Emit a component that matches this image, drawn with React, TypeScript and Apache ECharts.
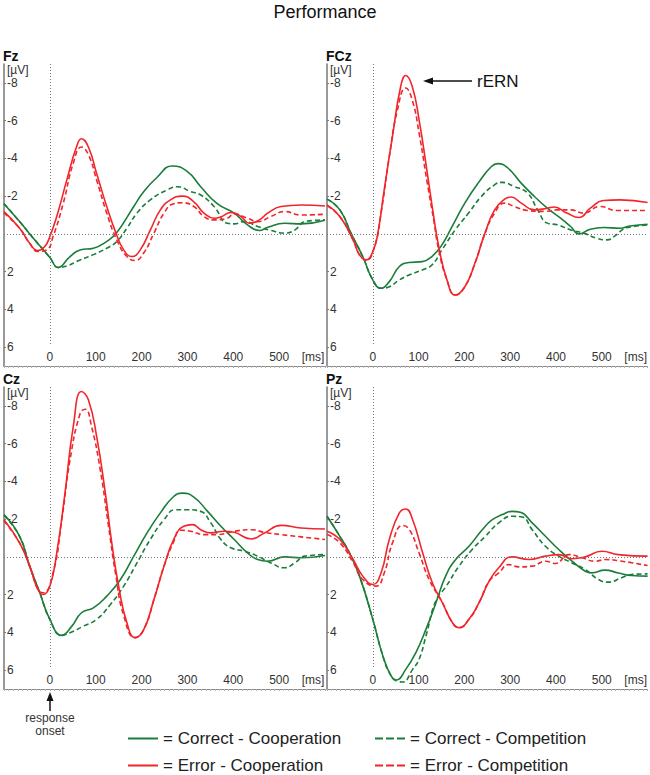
import React, { useEffect, useRef } from "react";
import * as echarts from "echarts";

type Pt = [number, number];

// ---- Data (time in ms, amplitude in µV) ----
const seriesNames = [
  "Correct - Cooperation",
  "Correct - Competition",
  "Error - Cooperation",
  "Error - Competition",
];
const panelNames = ["Fz", "FCz", "Cz", "Pz"];
const yTickValues = [-8, -6, -4, -2, 2, 4, 6];
const xTickValues = [0, 100, 200, 300, 400, 500];
const xUnitLabel = "[ms]";
const xUnitPos = 574;
const yUnitLabel = "[µV]";

const fzCorrectCoop: Pt[] = [[-100,-1.6],[-66,-0.65],[-37,0.2],[0,1.25],[18,1.78],[44,1.2],[66,0.85],[95,0.76],[124,0.4],[146,-0.07],[183,-1.45],[205,-2.24],[234,-3.0],[267,-3.6],[300,-3.3],[329,-2.5],[365,-1.6],[402,-1.1],[431,-0.48],[457,-0.18],[475,-0.35],[512,-0.56],[548,-0.53],[600,-0.72]];
const fzCorrectComp: Pt[] = [[-100,-1.6],[-66,-0.65],[-37,0.2],[0,1.25],[18,1.78],[37,1.7],[66,1.38],[95,1.1],[124,0.76],[146,0.4],[168,-0.3],[190,-1.1],[219,-1.8],[256,-2.33],[278,-2.5],[307,-2.24],[329,-2.06],[358,-1.45],[387,-0.56],[402,-0.53],[424,-0.65],[453,-0.39],[482,-0.18],[512,-0.04],[534,-0.2],[556,-0.65],[600,-0.74]];
const fzErrorCoop: Pt[] = [[-100,-1.18],[-66,-0.3],[-44,0.5],[-26,0.88],[-11,0.67],[0,0.14],[15,-0.92],[37,-2.86],[58,-4.6],[69,-5.04],[84,-4.6],[102,-3.2],[124,-1.45],[143,-0.12],[161,0.85],[179,1.2],[197,0.85],[219,-0.2],[241,-1.27],[263,-1.8],[289,-2.0],[314,-1.7],[336,-1.1],[358,-0.83],[373,-0.9],[395,-1.13],[417,-0.92],[435,-0.56],[457,-0.74],[475,-1.1],[504,-1.45],[548,-1.53],[600,-1.48]];
const fzErrorComp: Pt[] = [[-100,-1.1],[-66,-0.3],[-44,0.5],[-26,0.93],[-7,0.85],[7,0.14],[29,-1.6],[51,-3.74],[69,-4.6],[84,-4.2],[102,-2.86],[124,-1.1],[146,0.32],[168,1.2],[186,1.41],[205,1.0],[227,-0.04],[249,-1.1],[270,-1.6],[289,-1.65],[314,-1.45],[336,-0.92],[358,-0.74],[387,-0.83],[402,-1.06],[431,-0.83],[453,-0.65],[482,-0.92],[512,-1.18],[548,-1.0],[600,-1.04]];

const fczCorrectCoop: Pt[] = [[-100,-1.84],[-72,-1.27],[-47,0],[-22,1.2],[0,2.44],[18,2.88],[36,2.53],[58,1.73],[79,1.52],[108,1.47],[129,1.2],[151,0.58],[173,-0.39],[201,-1.63],[230,-2.69],[259,-3.57],[273,-3.72],[295,-3.49],[324,-2.69],[353,-1.98],[381,-1.36],[410,-0.83],[432,-0.39],[450,0],[475,-0.25],[504,-0.34],[540,-0.3],[561,-0.42],[600,-0.51]];
const fczCorrectComp: Pt[] = [[-100,-1.84],[-72,-1.27],[-47,0],[-22,1.2],[0,2.44],[18,2.88],[36,2.8],[58,2.44],[79,2.18],[108,1.91],[129,1.65],[151,0.85],[180,-0.21],[209,-1.1],[237,-1.98],[266,-2.6],[281,-2.73],[309,-2.51],[338,-2.16],[360,-1.27],[381,-0.57],[403,-0.48],[432,-0.21],[460,-0.04],[489,0.23],[511,0.32],[532,0.05],[547,-0.25],[568,-0.38],[600,-0.48]];
const fczErrorCoop: Pt[] = [[-100,-1.54],[-72,-0.92],[-43,0.32],[-29,1.11],[-14,1.38],[0,0.94],[11,-0.04],[25,-2.34],[43,-5.17],[61,-7.82],[72,-8.39],[86,-7.82],[101,-6.05],[119,-3.22],[133,-0.92],[144,0.67],[162,2.44],[180,3.24],[201,2.8],[223,1.56],[245,-0.04],[266,-1.27],[288,-1.84],[302,-1.95],[324,-1.63],[353,-1.27],[381,-1.36],[396,-1.42],[424,-1.1],[450,-0.87],[475,-1.36],[504,-1.77],[540,-1.8],[600,-1.66]];
const fczErrorComp: Pt[] = [[-100,-1.5],[-72,-0.92],[-43,0.32],[-29,1.11],[-14,1.38],[4,0.67],[18,-1.1],[36,-4.1],[54,-6.58],[72,-7.73],[86,-7.1],[101,-5.35],[119,-2.69],[133,-0.74],[144,0.85],[162,2.44],[180,3.24],[201,2.8],[223,1.56],[245,-0.04],[266,-1.1],[288,-1.63],[309,-1.45],[338,-1.24],[374,-1.19],[403,-1.27],[432,-1.27],[460,-1.1],[496,-1.45],[532,-1.24],[600,-1.24]];

const czCorrectCoop: Pt[] = [[-100,-2.24],[-66,-1.09],[-44,0.49],[-22,1.9],[0,3.31],[26,4.16],[48,3.67],[69,2.96],[95,2.7],[124,2.08],[154,1.2],[183,-0.04],[212,-1.27],[241,-2.33],[270,-3.2],[289,-3.38],[314,-3.17],[344,-2.41],[373,-1.62],[402,-0.92],[431,-0.21],[453,0.14],[475,0.23],[512,0],[548,0.05],[600,-0.07]];
const czCorrectComp: Pt[] = [[-100,-2.2],[-66,-1.09],[-44,0.49],[-22,1.9],[0,3.31],[26,4.16],[44,4.02],[73,3.67],[102,3.31],[132,2.52],[161,1.55],[190,0.32],[219,-0.92],[249,-1.97],[274,-2.5],[300,-2.5],[329,-2.41],[351,-1.8],[373,-0.92],[395,-0.48],[424,-0.3],[453,-0.04],[482,0.32],[512,0.58],[534,0.32],[556,-0.04],[600,-0.12]];
const czErrorCoop: Pt[] = [[-100,-1.97],[-66,-0.74],[-44,0.49],[-26,1.73],[-15,1.99],[0,1.55],[15,-0.21],[33,-3.38],[51,-6.9],[69,-8.76],[84,-8.32],[102,-6.38],[121,-3.38],[135,-0.74],[150,1.55],[168,3.49],[186,4.28],[205,3.84],[227,2.26],[249,0.49],[270,-0.92],[292,-1.62],[311,-1.71],[329,-1.44],[351,-1.27],[380,-1.36],[402,-1.3],[439,-0.95],[468,-1.27],[504,-1.67],[548,-1.53],[600,-1.48]];
const czErrorComp: Pt[] = [[-100,-1.9],[-66,-0.74],[-44,0.49],[-26,1.73],[-15,1.9],[7,0.85],[26,-1.97],[44,-5.14],[66,-7.6],[77,-7.82],[91,-6.9],[110,-4.6],[128,-1.62],[143,0.85],[161,3.1],[186,4.28],[205,3.84],[227,2.26],[249,0.49],[270,-0.8],[285,-1.41],[307,-1.36],[336,-1.18],[365,-1.18],[402,-1.36],[439,-1.44],[468,-1.3],[504,-1.18],[548,-1.06],[600,-0.92]];

const pzCorrectCoop: Pt[] = [[-100,-2.15],[-72,-1.09],[-51,-0.21],[-29,1.02],[0,3.31],[22,5.25],[40,6.31],[51,6.52],[72,5.96],[94,5.07],[116,3.84],[138,2.43],[159,1.02],[181,0.14],[210,-0.56],[239,-1.44],[261,-1.97],[283,-2.24],[304,-2.41],[322,-2.36],[348,-1.8],[377,-1.09],[406,-0.39],[435,0.23],[464,0.76],[478,0.85],[507,0.7],[536,0.85],[565,0.99],[600,1.02]];
const pzCorrectComp: Pt[] = [[-100,-2.15],[-72,-1.09],[-51,-0.21],[-29,1.02],[0,3.31],[22,5.25],[40,6.31],[55,6.6],[65,6.63],[87,5.96],[101,5.43],[116,4.2],[138,2.3],[159,1.6],[188,0.5],[217,-0.39],[246,-1.09],[275,-1.8],[304,-2.15],[326,-2.11],[348,-1.44],[377,-0.56],[406,-0.04],[435,0.32],[464,0.67],[493,1.2],[514,1.34],[543,1.11],[565,0.93],[600,0.9]];
const pzErrorCoop: Pt[] = [[-100,-1.36],[-72,-0.92],[-43,0.14],[-22,1.02],[0,1.46],[18,0.85],[36,-0.92],[58,-2.33],[72,-2.54],[87,-1.97],[109,-0.21],[130,1.37],[152,2.43],[174,3.49],[188,3.75],[210,3.31],[232,2.43],[254,1.29],[275,0.58],[304,0],[341,0.14],[377,-0.04],[406,-0.12],[435,0.1],[464,0],[500,-0.3],[536,-0.12],[600,-0.04]];
const pzErrorComp: Pt[] = [[-100,-1.18],[-72,-0.75],[-43,0.3],[-22,1.2],[7,1.55],[25,0.85],[43,-0.74],[65,-1.66],[80,-1.44],[101,-0.21],[123,1.2],[152,2.43],[174,3.49],[188,3.75],[210,3.31],[232,2.43],[254,1.29],[275,0.85],[297,0.41],[319,0.53],[348,0.49],[377,0.23],[399,0.35],[428,-0.12],[457,0.05],[486,0.23],[507,0.14],[536,0.2],[600,0.46]];

const panelData: Pt[][][] = [
  [fzCorrectCoop, fzCorrectComp, fzErrorCoop, fzErrorComp],
  [fczCorrectCoop, fczCorrectComp, fczErrorCoop, fczErrorComp],
  [czCorrectCoop, czCorrectComp, czErrorCoop, czErrorComp],
  [pzCorrectCoop, pzCorrectComp, pzErrorCoop, pzErrorComp],
];

// ---- Styles / layout ----
const FONT = "'Liberation Sans', Arial, Helvetica, sans-serif";
const GREEN = "#1b7d3a";
const RED = "#f2252b";
const seriesColors = [GREEN, GREEN, RED, RED];
const seriesDashed = [false, true, false, true];
const gridBoxes = [
  { left: 4, top: 64, width: 321, height: 302 },
  { left: 327, top: 64, width: 322, height: 302 },
  { left: 4, top: 387, width: 321, height: 302 },
  { left: 327, top: 387, width: 322, height: 302 },
];
const legendSlots = [
  { left: 123, top: 725 },
  { left: 370, top: 725 },
  { left: 123, top: 752 },
  { left: 370, top: 752 },
];
const SOLID_ICON = "rect";
const DASH_ICON = "path://M0,0h8v2h-8z M11,0h8v2h-8z M22,0h8v2h-8z";

function buildOption(): any {
  const grid = gridBoxes.map((g) => ({ ...g, containLabel: false }));
  const xAxis = gridBoxes.map((_, i) => ({
    type: "value",
    gridIndex: i,
    min: -100,
    max: 600,
    interval: 100,
    axisLine: { show: true, onZero: false, lineStyle: { color: "#8a8a8a", width: 1 } },
    axisTick: { show: true, length: 2, lineStyle: { color: "#aaa" } },
    minorTick: { show: true, splitNumber: 10, length: 2, lineStyle: { color: "#b5b5b5" } },
    splitLine: { show: false },
    axisLabel: {
      inside: true,
      margin: 3,
      customValues: [...xTickValues, xUnitPos],
      formatter: (v: number) => (v === xUnitPos ? xUnitLabel : String(v)),
      fontFamily: FONT,
      fontSize: 12,
      color: "#333",
    },
  }));
  const yAxis = gridBoxes.map((_, i) => ({
    type: "value",
    gridIndex: i,
    inverse: true,
    min: -9,
    max: 7,
    axisLine: { show: true, onZero: false, lineStyle: { color: "#777", width: 1.5 } },
    axisTick: { show: true, inside: true, length: 2, customValues: yTickValues, lineStyle: { color: "#777" } },
    splitLine: { show: false },
    axisLabel: {
      inside: true,
      margin: 3,
      customValues: yTickValues,
      fontFamily: FONT,
      fontSize: 12,
      color: "#333",
    },
  }));
  const series: any[] = [];
  panelData.forEach((set, p) => {
    set.forEach((data, s) => {
      series.push({
        type: "line",
        name: seriesNames[s],
        xAxisIndex: p,
        yAxisIndex: p,
        data,
        symbol: "none",
        smooth: 0.5,
        z: s >= 2 ? 4 : 3,
        itemStyle: { color: seriesColors[s] },
        lineStyle: {
          color: seriesColors[s],
          width: 1.6,
          type: seriesDashed[s] ? [5, 3] : "solid",
        },
        markLine:
          s === 0
            ? {
                silent: true,
                symbol: "none",
                label: { show: false },
                lineStyle: { type: [1, 2], color: "#777", width: 1 },
                data: [[{ coord: [0, -9] }, { coord: [0, 5.9] }], { yAxis: 0 }],
              }
            : undefined,
      });
    });
  });

  const legend = seriesNames.map((name, s) => ({
    left: legendSlots[s].left,
    top: legendSlots[s].top,
    data: [name],
    icon: seriesDashed[s] ? DASH_ICON : SOLID_ICON,
    itemWidth: 30,
    itemHeight: 2,
    formatter: "= {name}",
    textStyle: { fontFamily: FONT, fontSize: 17, color: "#222" },
  }));

  const graphic: any[] = [];
  gridBoxes.forEach((g, i) => {
    graphic.push({
      type: "text",
      left: g.left - 1,
      top: g.top - 15,
      style: { text: panelNames[i], font: `bold 14px ${FONT}`, fill: "#111" },
    });
    graphic.push({
      type: "text",
      left: g.left + 3,
      top: g.top,
      style: { text: yUnitLabel, font: `12px ${FONT}`, fill: "#333" },
    });
  });
  // rERN annotation arrow
  graphic.push({ type: "line", shape: { x1: 432, y1: 81, x2: 472, y2: 81 }, style: { stroke: "#111", lineWidth: 1.5 } });
  graphic.push({ type: "polygon", shape: { points: [[423, 81], [433, 77.5], [433, 84.5]] }, style: { fill: "#111" } });
  graphic.push({ type: "text", x: 477, y: 81, style: { text: "rERN", font: `17px ${FONT}`, fill: "#111", verticalAlign: "middle" } });
  // response onset arrow
  graphic.push({ type: "line", shape: { x1: 50, y1: 700, x2: 50, y2: 711 }, style: { stroke: "#111", lineWidth: 1.5 } });
  graphic.push({ type: "polygon", shape: { points: [[50, 692], [46.5, 701], [53.5, 701]] }, style: { fill: "#111" } });
  graphic.push({ type: "text", x: 50, y: 718, style: { text: "response", font: `12px ${FONT}`, fill: "#333", align: "center", verticalAlign: "middle" } });
  graphic.push({ type: "text", x: 50, y: 731, style: { text: "onset", font: `12px ${FONT}`, fill: "#333", align: "center", verticalAlign: "middle" } });

  return {
    animation: false,
    backgroundColor: "#fff",
    title: {
      text: "Performance",
      left: "center",
      top: -2,
      textStyle: { fontFamily: FONT, fontSize: 18, fontWeight: "normal", color: "#111" },
    },
    grid,
    xAxis,
    yAxis,
    series,
    legend,
    graphic,
  };
}

export default function App() {
  const ref = useRef<HTMLDivElement>(null);
  useEffect(() => {
    document.body.style.margin = "0";
    if (!ref.current) return;
    const chart = echarts.init(ref.current, undefined, { renderer: "svg" });
    chart.setOption(buildOption());
    return () => chart.dispose();
  }, []);
  return <div ref={ref} style={{ width: 650, height: 775 }} />;
}
